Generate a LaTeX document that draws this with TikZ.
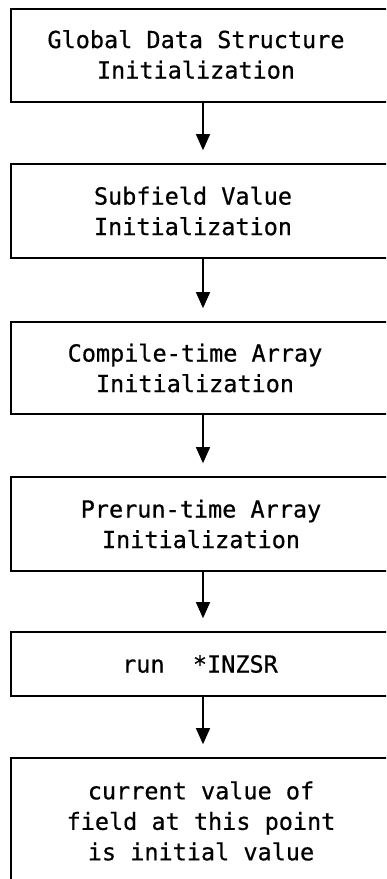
\documentclass[tikz,border=0pt]{standalone}
\usepackage{fontspec}
\setmonofont[FakeBold=0.6]{DejaVu Sans Mono}
\usetikzlibrary{arrows.meta}
\begin{document}
\begin{tikzpicture}[x=1pt,y=1pt,
  box/.style={draw=black,line width=1.6pt,minimum width=384pt,inner sep=0pt,fill=white},
  txt/.style={font=\ttfamily\fontsize{23.5}{30.5}\selectfont,align=center,inner sep=0pt},
  flow/.style={line width=1.3pt,-{Triangle[width=14pt,length=16pt]},shorten >=13pt}]
\useasboundingbox (0,0) rectangle (386,879);
\fill[white] (0,0) rectangle (386,879);
\clip (0,0) rectangle (386,879);
\node[box,minimum height=93pt] (b1) at (203,823.5) {};
\node[box,minimum height=94pt] (b2) at (203,668) {};
\node[box,minimum height=92pt] (b3) at (203,511) {};
\node[box,minimum height=94pt] (b4) at (203,355) {};
\node[box,minimum height=64pt] (b5) at (203,215) {};
\node[box,minimum height=126pt] (b6) at (203,58) {};
\node[txt] (t1) at ([xshift=-7pt,yshift=1pt]b1.center) {Global Data Structure\\Initialization};
\node[txt] (t2) at ([xshift=-10pt]b2.center) {Subfield Value\\Initialization};
\node[txt] (t3) at ([xshift=-8pt]b3.center) {Compile-time Array\\Initialization};
\node[txt] (t4) at ([xshift=-2pt]b4.center) {Prerun-time Array\\Initialization};
\node[txt] (t5) at ([xshift=-3pt]b5.center) {run\ \ *INZSR};
\node[txt] (t6) at ([xshift=-2pt]b6.center) {current value of\\field at this point\\is initial value};
\draw[flow] (b1.south) -- (b2.north);
\draw[flow] (b2.south) -- (b3.north);
\draw[flow] (b3.south) -- (b4.north);
\draw[flow] (b4.south) -- (b5.north);
\draw[flow] (b5.south) -- (b6.north);
\end{tikzpicture}
\end{document}
